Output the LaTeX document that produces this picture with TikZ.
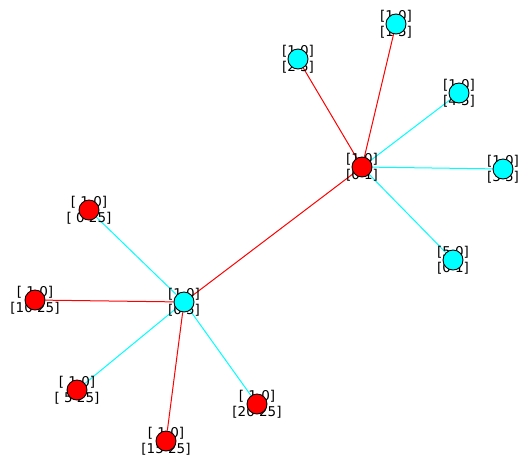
\documentclass[tikz,border=0pt]{standalone}
\usepackage{fontspec}
\setmainfont{DejaVu Sans}
\usetikzlibrary{positioning}
\pgfdeclarelayer{edges}
\pgfdeclarelayer{labels}
\pgfsetlayers{edges,labels,main}
\definecolor{vred}{RGB}{255,0,0}
\definecolor{vcyan}{RGB}{0,255,255}

\begin{document}
\begin{tikzpicture}[x=1pt, y=-1pt,
    vtx/.style={circle, draw=black, line width=0.9pt, minimum size=20pt, inner sep=0pt},
    redvtx/.style={vtx, fill=vred},
    cyanvtx/.style={vtx, fill=vcyan},
    vlabel/.style={align=center, inner sep=0pt, font=\fontsize{13.5}{16}\selectfont},
    redline/.style={vred, line width=1pt},
    cyanline/.style={vcyan, line width=1pt}]
\useasboundingbox (0,0) rectangle (530,467);

% Hubs
\node[redvtx] (hubA) at (362,167) {};
\node[cyanvtx] (hubB) at (184,302) {};

% Leaves of the red hub
\node[cyanvtx] (a1) at (396,24) {};
\node[cyanvtx] (a2) at (298,59) {};
\node[cyanvtx] (a3) at (459,93) {};
\node[cyanvtx] (a4) at (503,169) {};
\node[cyanvtx] (a5) at (453,260) {};

% Leaves of the cyan hub
\node[redvtx] (b1) at (89,210) {};
\node[redvtx] (b2) at (35,300) {};
\node[redvtx] (b3) at (77,390) {};
\node[redvtx] (b4) at (166,441) {};
\node[redvtx] (b5) at (257,404) {};

% Edges
\begin{pgfonlayer}{edges}
\draw[redline] (hubA) -- (hubB);
\draw[redline] (hubA) -- (a1);
\draw[redline] (hubA) -- (a2);
\draw[cyanline] (hubA) -- (a3);
\draw[cyanline] (hubA) -- (a4);
\draw[cyanline] (hubA) -- (a5);
\draw[cyanline] (hubB) -- (b1);
\draw[redline] (hubB) -- (b2);
\draw[cyanline] (hubB) -- (b3);
\draw[redline] (hubB) -- (b4);
\draw[cyanline] (hubB) -- (b5);
\end{pgfonlayer}

% Labels (behind the circles)
\begin{pgfonlayer}{labels}
\node[vlabel] (lhubA) at (hubA) {[1 0]\\{}[0 1]};
\node[vlabel] (lhubB) at (hubB) {[1 0]\\{}[0 5]};
\node[vlabel] (la1) at (a1) {[1 0]\\{}[1 5]};
\node[vlabel] (la2) at (a2) {[1 0]\\{}[2 5]};
\node[vlabel] (la3) at (a3) {[1 0]\\{}[4 5]};
\node[vlabel] (la4) at (a4) {[1 0]\\{}[3 5]};
\node[vlabel] (la5) at (a5) {[5 0]\\{}[0 1]};
\node[vlabel] (lb1) at (b1) {[ 1 0]\\{}[ 0 25]};
\node[vlabel] (lb2) at (b2) {[ 1 0]\\{}[10 25]};
\node[vlabel] (lb3) at (b3) {[ 1 0]\\{}[ 5 25]};
\node[vlabel] (lb4) at (b4) {[ 1 0]\\{}[15 25]};
\node[vlabel] (lb5) at (b5) {[ 1 0]\\{}[20 25]};
\end{pgfonlayer}
\end{tikzpicture}
\end{document}
